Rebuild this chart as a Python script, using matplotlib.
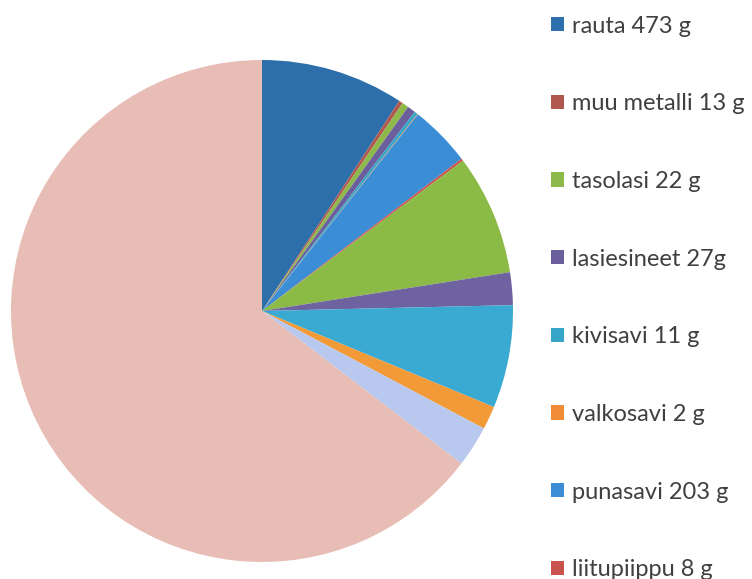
import matplotlib
matplotlib.use("Agg")
import matplotlib.pyplot as plt

# slices in drawing order (clockwise from 12 o'clock)
legend_labels = ["rauta 473 g", "muu metalli 13 g", "tasolasi 22 g", "lasiesineet 27g",
                 "kivisavi 11 g", "valkosavi 2 g", "punasavi 203 g", "liitupiippu 8 g"]
values = [473, 13, 22, 27, 11, 2, 203, 8, 398, 108, 340, 77, 136, 3318]
colors = ["#2C6FAB", "#B0574F", "#8DB84A", "#6A5E9C", "#37A5C8", "#F08C35",
          "#3B8DD6", "#C8524E", "#8CBA46", "#6E63A0", "#3AAAD2", "#F39A38",
          "#B8C8EE", "#E8BDB5"]

W, H = 752, 579
fig = plt.figure(figsize=(W / 100, H / 100), dpi=100)

cx, cy, r = 262, 311, 251
ax = fig.add_axes([(cx - r) / W, (H - cy - r) / H, 2 * r / W, 2 * r / H])
wedges, _ = ax.pie(values, colors=colors, startangle=90, counterclock=False,
                   radius=1, wedgeprops=dict(linewidth=0))
ax.set_xlim(-1, 1)
ax.set_ylim(-1, 1)
ax.set_aspect("equal")
ax.axis("off")

leg = fig.legend(wedges[:8], legend_labels, loc="upper left",
                 bbox_to_anchor=(534 / W, 1 + 1 / H), frameon=False,
                 prop=dict(family="Lato", size=17), labelcolor="#404040",
                 handlelength=0.55, handleheight=0.55, handletextpad=0.35,
                 labelspacing=2.4, borderpad=0.2)

fig.savefig("out.png", dpi=100, facecolor="white")
